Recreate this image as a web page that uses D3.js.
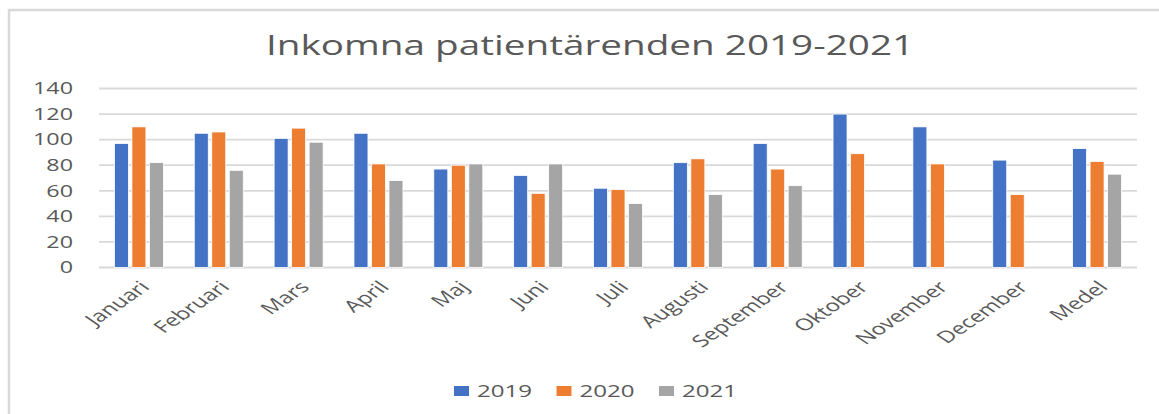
<!DOCTYPE html>
<html>
<head>
<meta charset="utf-8">
<script src="https://cdn.jsdelivr.net/npm/d3@7"></script>
<style>
  html, body { margin: 0; padding: 0; background: #fff; }
  svg text { font-family: "Open Sans", "Noto Sans", sans-serif; fill: #595959; }
</style>
</head>
<body>
<div id="chart"></div>
<script>
// chart data
const months = ['Januari', 'Februari', 'Mars', 'April', 'Maj', 'Juni', 'Juli',
    'Augusti', 'September', 'Oktober', 'November', 'December', 'Medel'];
const seriesNames = ['2019', '2020', '2021'];
const values2019 = [97, 105, 101, 105, 77, 72, 62, 82, 97, 120, 110, 84, 93];
const values2020 = [110, 106, 109, 81, 80, 58, 61, 85, 77, 89, 81, 57, 83];
const values2021 = [82, 76, 98, 68, 81, 81, 50, 57, 64, null, null, null, 73];
const yTicks = [0, 20, 40, 60, 80, 100, 120, 140];
const titleText = 'Inkomna patientärenden 2019-2021';

const Layout = {
    width: 1159,
    height: 414,
    plotLeft: 99,
    plotRight: 1137,
    plotTop: 88.5,
    plotBottom: 267.5,
    textStretch: 1.46,
    colors: ['#4472C4', '#ED7D31', '#A5A5A5'],
    gridColor: '#d9d9d9'
};

const seriesValues = [values2019, values2020, values2021];
const rows = months.map(function(m, i) {
    return {
        month: m,
        bars: seriesNames.map(function(s, j) {
            return {series: s, value: seriesValues[j][i], color: Layout.colors[j]};
        })
    };
});

// the picture is stretched horizontally, so every text gets the same x scale
function stretched(x, y, extra) {
    return 'translate(' + x + ',' + y + ') scale(' + Layout.textStretch + ',1)' + (extra ? ' ' + extra : '');
}

let svg = d3.select('#chart').append('svg')
    .attr('width', Layout.width)
    .attr('height', Layout.height);

// chart frame
svg.append('rect')
    .attr('x', 9)
    .attr('y', 10)
    .attr('width', Layout.width + 20)
    .attr('height', Layout.height + 20)
    .attr('fill', 'none')
    .attr('stroke', Layout.gridColor)
    .attr('stroke-width', 2.5);

svg.append('text')
    .attr('transform', stretched(590, 55))
    .attr('text-anchor', 'middle')
    .attr('font-size', 26.5)
    .text(titleText);

let x0 = d3.scaleBand()
    .domain(months)
    .range([Layout.plotLeft, Layout.plotRight]);

let x1 = d3.scaleBand()
    .domain(seriesNames)
    .range([0, 49])
    .paddingInner(0.2);

let y = d3.scaleLinear()
    .domain([0, 140])
    .range([Layout.plotBottom, Layout.plotTop]);

// gridlines
svg.append('g')
    .selectAll('line')
    .data(yTicks)
    .enter()
    .append('line')
    .attr('x1', Layout.plotLeft)
    .attr('x2', Layout.plotRight)
    .attr('y1', function(d) { return y(d); })
    .attr('y2', function(d) { return y(d); })
    .attr('stroke', Layout.gridColor)
    .attr('stroke-width', 1.8);

// y tick labels
svg.append('g')
    .selectAll('text')
    .data(yTicks)
    .enter()
    .append('text')
    .attr('transform', function(d) { return stretched(73, y(d)); })
    .attr('text-anchor', 'end')
    .attr('dy', '0.36em')
    .attr('font-size', 16)
    .text(function(d) { return d; });

// bars
let groups = svg.append('g')
    .selectAll('g')
    .data(rows)
    .enter()
    .append('g')
    .attr('transform', function(d) {
        return 'translate(' + (x0(d.month) + (x0.bandwidth() - 49) / 2) + ',0)';
    });

groups.selectAll('rect')
    .data(function(d) { return d.bars.filter(function(b) { return b.value != null; }); })
    .enter()
    .append('rect')
    .attr('x', function(d) { return x1(d.series); })
    .attr('width', x1.bandwidth())
    .attr('y', function(d) { return y(d.value); })
    .attr('height', function(d) { return y(0) - y(d.value); })
    .attr('fill', function(d) { return d.color; })
    .attr('stroke', '#fff')
    .attr('stroke-width', 0.8);

// rotated category labels
svg.append('g')
    .selectAll('text')
    .data(months)
    .enter()
    .append('text')
    .attr('transform', function(d) {
        return stretched(x0(d) + x0.bandwidth() / 2, 280, 'rotate(-45)');
    })
    .attr('text-anchor', 'end')
    .attr('dy', '0.7em')
    .attr('font-size', 16.5)
    .text(function(d) { return d; });

// legend
let legend = svg.append('g')
    .selectAll('g')
    .data(seriesNames)
    .enter()
    .append('g')
    .attr('transform', function(d, i) { return 'translate(' + (454 + 102.5 * i) + ',386)'; });

legend.append('rect')
    .attr('width', 15)
    .attr('height', 10)
    .attr('fill', function(d, i) { return Layout.colors[i]; });

legend.append('text')
    .attr('transform', stretched(23, 5))
    .attr('dy', '0.36em')
    .attr('font-size', 16.5)
    .text(function(d) { return d; });
</script>
</body>
</html>
